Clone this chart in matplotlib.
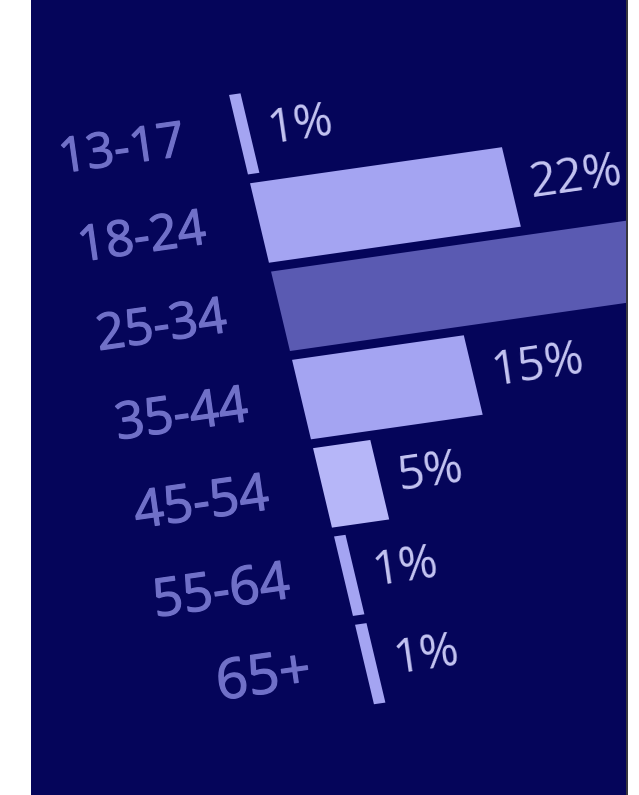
import matplotlib
matplotlib.use("Agg")
import matplotlib.pyplot as plt
from matplotlib.patches import Rectangle
from matplotlib.transforms import Affine2D
import matplotlib.patheffects as pe

categories = ['13-17', '18-24', '25-34', '35-44', '45-54', '55-64', '65+']
values = [1, 22, 55, 15, 5, 1, 1]
value_labels = ['1%', '22%', '', '15%', '5%', '1%', '1%']  # 25-34 label is off-screen

W, H = 639, 795
fig = plt.figure(figsize=(W / 100, H / 100), dpi=100)
fig.patch.set_facecolor('white')
ax = fig.add_axes([0, 0, 1, 1])
ax.set_xlim(0, W)
ax.set_ylim(H, 0)
ax.axis('off')

bg = Rectangle((31, 0), 595, H, facecolor='#05055a', edgecolor='none', zorder=0)
ax.add_patch(bg)
ax.plot([626.5, 626.5], [0, H], color='#101018', lw=1.2, zorder=1)

# tilted chart frame: (percent, category) -> photo pixels
U = (11.45, -1.64)
V = (21.0, 88.3)
O = (238.5, 134.7)
chart = Affine2D.from_values(U[0], U[1], V[0], V[1], O[0], O[1]) + ax.transData

colors = ['#a4a4f2', '#a4a4f2', '#5a5ab2', '#a4a4f2', '#b6b6f8', '#a4a4f2', '#a4a4f2']
bars = ax.barh(range(len(categories)), values, height=0.9, left=0,
               color=colors, transform=chart, zorder=2)
for b in bars:
    b.set_clip_path(bg)

angle = 8.15
for i, (cat, v, lab) in enumerate(zip(categories, values, value_labels)):
    size = 35 + i * 0.6 if cat != '65+' else 40
    ax.text(-4.7, i, cat, transform=chart, ha='right', va='center',
            rotation=angle, rotation_mode='anchor', fontsize=size,
            color='#7070c8', family='Open Sans', zorder=3,
            path_effects=[pe.withStroke(linewidth=0.9, foreground='#7070c8')])
    if lab:
        ax.text(v + 1.6, i, lab, transform=chart, ha='left', va='center',
                rotation=angle, rotation_mode='anchor', fontsize=34,
                color='#c4c4f2', family='Open Sans', zorder=3)

fig.savefig('out.png', dpi=100, facecolor='white')
